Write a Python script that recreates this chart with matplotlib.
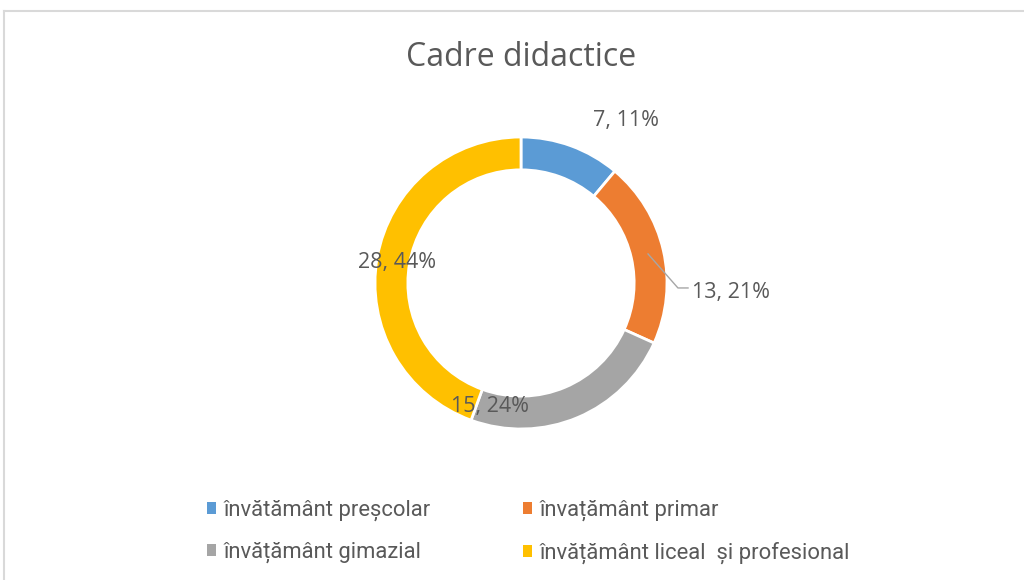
import matplotlib
matplotlib.use("Agg")
import matplotlib.pyplot as plt
from matplotlib.patches import Patch
from matplotlib.lines import Line2D

title = "Cadre didactice"
categories = ["învătământ preșcolar", "învațământ primar",
              "învățământ gimazial", "învățământ liceal  și profesional"]
values = [7, 13, 15, 28]
percent_labels = ["11%", "21%", "24%", "44%"]
colors = ["#5B9BD5", "#ED7D31", "#A5A5A5", "#FFC000"]

W, H = 1024, 580
fig = plt.figure(figsize=(W / 100, H / 100), dpi=100)
fig.patch.set_facecolor("white")

# chart border (top and left edges visible)
fig.add_artist(Line2D([4 / W, 1.0], [1 - 10.5 / H, 1 - 10.5 / H], color="#d9d9d9", lw=1.5))
fig.add_artist(Line2D([4 / W, 4 / W], [1 - 10.5 / H, 0.0], color="#d9d9d9", lw=1.5))

cx, cy, R = 521, 283, 146
half = 160
ax = fig.add_axes([(cx - half) / W, (H - cy - half) / H, 2 * half / W, 2 * half / H])
lim = half / R

wedges, _ = ax.pie(values, colors=colors, startangle=90, counterclock=False,
                   radius=1.0, wedgeprops=dict(width=0.225, edgecolor="white", linewidth=2),
                   frame=True)
ax.set_xlim(-lim, lim)
ax.set_ylim(-lim, lim)
ax.axis("off")

text_color = "#595959"
label_pos = [(0.719, 1.11), (1.44, -0.062), (-0.212, -0.849), (-0.849, 0.137)]
for v, p, (x, y) in zip(values, percent_labels, label_pos):
    ax.text(x, y, f"{v}, {p}", ha="center", va="center", fontsize=15.5,
            color=text_color, family=["Open Sans", "DejaVu Sans"], clip_on=False)

# leader line for the orange label
ax.plot([0.870, 1.075, 1.144], [0.199, -0.034, -0.034], color="#a6a6a6", lw=1, clip_on=False)

fig.text(cx / W, 1 - 57 / H, title, ha="center", va="center", fontsize=23,
         color=text_color, family=["Open Sans", "DejaVu Sans"])

order = [0, 2, 1, 3]
handles = [Patch(facecolor=colors[i], edgecolor="none") for i in order]
labels = [categories[i] for i in order]
leg = fig.legend(handles, labels, ncol=2, loc="upper left",
                 bbox_to_anchor=(187 / W, 1 - 480 / H), frameon=False,
                 handlelength=0.42, handleheight=0.42, handletextpad=0.35,
                 columnspacing=4.2, labelspacing=0.95,
                 prop=dict(family=["Roboto", "DejaVu Sans"], size=15.8))
for t in leg.get_texts():
    t.set_color(text_color)

fig.savefig("out.png", dpi=100, facecolor="white")
